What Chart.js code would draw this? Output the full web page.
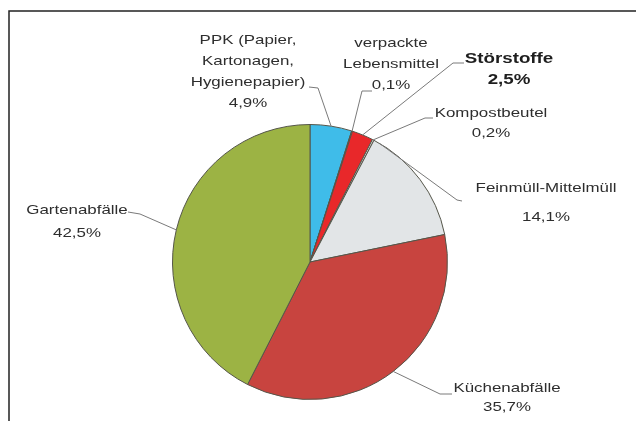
<!DOCTYPE html>
<html lang="de">
<head>
<meta charset="UTF-8">
<title>Zusammensetzung Bioabfall</title>
<script src="https://cdn.jsdelivr.net/npm/chart.js@4.4.1/dist/chart.umd.min.js"></script>
<style>
  html, body { margin: 0; padding: 0; background: #fff; overflow: hidden; }
  #wrap { width: 636px; height: 421px; }
  canvas { display: block; }
</style>
</head>
<body>
<div id="wrap"><canvas id="pie" width="636" height="421"></canvas></div>
<script>
// Daten
const categories = ['PPK (Papier, Kartonagen, Hygienepapier)', 'verpackte Lebensmittel', 'Störstoffe',
  'Kompostbeutel', 'Feinmüll-Mittelmüll', 'Küchenabfälle', 'Gartenabfälle'];
const shares = [4.9, 0.1, 2.5, 0.2, 14.1, 35.7, 42.5];
const labelText = [
  ['PPK (Papier,', 'Kartonagen,', 'Hygienepapier)'],
  ['verpackte', 'Lebensmittel'],
  ['Störstoffe'],
  ['Kompostbeutel'],
  ['Feinmüll-Mittelmüll'],
  ['Küchenabfälle'],
  ['Gartenabfälle']
];

const colors = ['#3fbce9', '#e3393a', '#e8282a', '#e4e2df', '#e2e5e7', '#c8443f', '#9cb344'];

// Beschriftung: Textmitte, Zeilenabstand, Leitlinie (Text -> Knick), Ankerpunkt im Segment
const labelLayout = [
  { x: 248, y: 40,  gap: 21, from: [309, 87],  knee: [318, 88],  frac: 0.5 },
  { x: 391, y: 43,  gap: 21, from: [372, 91],  knee: [362, 91],  frac: 0.5 },
  { x: 509, y: 59,  gap: 21, from: [464, 63],  knee: [453, 63],  frac: 0.5, bold: true },
  { x: 491, y: 113, gap: 20, from: [433, 118], knee: [425, 118], frac: 0.5 },
  { x: 546, y: 188, gap: 29, from: [462, 201], knee: [457, 200], frac: 0.05 },
  { x: 507, y: 388, gap: 19, from: [452, 394], knee: [440, 394], frac: 0.5 },
  { x: 77,  y: 210, gap: 23, from: [128, 212], knee: [140, 214], frac: 0.5 }
];

function pct(v) {
  return v.toFixed(1).replace('.', ',') + '%';
}

const framePlugin = {
  id: 'frame',
  beforeDraw(chart) {
    const ctx = chart.ctx;
    ctx.save();
    ctx.fillStyle = '#fff';
    ctx.fillRect(0, 0, chart.width, chart.height);
    ctx.strokeStyle = '#222';
    ctx.lineWidth = 1.5;
    ctx.beginPath();
    ctx.moveTo(9, chart.height);
    ctx.lineTo(9, 11);
    ctx.lineTo(chart.width + 5, 11);
    ctx.stroke();
    ctx.restore();
  }
};

const labelPlugin = {
  id: 'sliceLabels',
  afterDraw(chart) {
    const ctx = chart.ctx;
    const arcs = chart.getDatasetMeta(0).data;
    ctx.save();
    arcs.forEach(function (arc, i) {
      const p = arc.getProps(['x', 'y', 'startAngle', 'endAngle', 'outerRadius'], true);
      const L = labelLayout[i];
      const a = p.startAngle + (p.endAngle - p.startAngle) * L.frac;
      const ax = p.x + Math.cos(a) * p.outerRadius;
      const ay = p.y + Math.sin(a) * p.outerRadius;

      // Leitlinie
      ctx.strokeStyle = '#7a7a7a';
      ctx.lineWidth = 1;
      ctx.beginPath();
      ctx.moveTo(L.from[0], L.from[1]);
      ctx.lineTo(L.knee[0], L.knee[1]);
      ctx.lineTo(ax, ay);
      ctx.stroke();

      // Text
      const lines = labelText[i].concat([pct(shares[i])]);
      ctx.fillStyle = L.bold ? '#1e1e1e' : '#2e2e2e';
      ctx.font = L.bold ? 'bold 15px "Liberation Sans", Arial, sans-serif'
                        : '13px "Liberation Sans", Arial, sans-serif';
      ctx.textAlign = 'center';
      ctx.textBaseline = 'middle';
      lines.forEach(function (t, k) {
        ctx.save();
        ctx.translate(L.x, L.y + k * L.gap);
        ctx.scale(L.bold ? 1.25 : 1.3, 1);
        ctx.fillText(t, 0, 0);
        ctx.restore();
      });
    });
    ctx.restore();
  }
};

new Chart(document.getElementById('pie'), {
  type: 'pie',
  data: {
    labels: categories,
    datasets: [{
      data: shares,
      backgroundColor: colors,
      borderColor: '#55564a',
      borderWidth: 1
    }]
  },
  options: {
    responsive: false,
    animation: false,
    layout: { padding: { top: 124, bottom: 21, left: 172, right: 188 } },
    plugins: {
      legend: { display: false },
      tooltip: { enabled: false }
    }
  },
  plugins: [framePlugin, labelPlugin]
});
</script>
</body>
</html>
